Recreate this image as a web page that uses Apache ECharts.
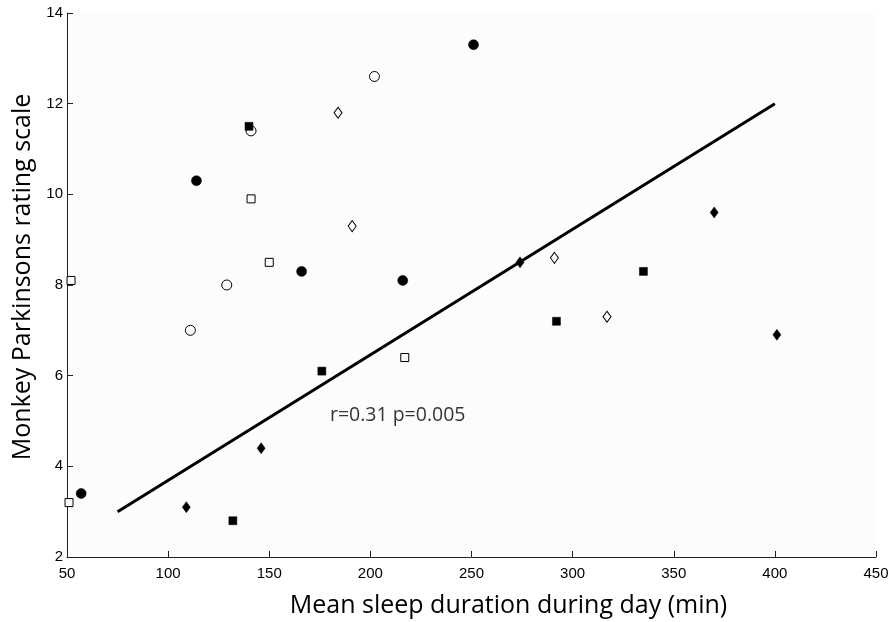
<!DOCTYPE html>
<html>
<head>
<meta charset="utf-8">
<script src="https://cdn.jsdelivr.net/npm/echarts@6/dist/echarts.min.js"></script>
<style>html,body{margin:0;padding:0;background:#fff;}#c{width:893px;height:622px;}</style>
</head>
<body>
<div id="c"></div>
<script>
// Data
var filledCircles = [[57,3.4],[114,10.3],[166,8.3],[216,8.1],[251,13.3]];
var openCircles   = [[111,7.0],[129,8.0],[141,11.4],[202,12.6]];
var filledSquares = [[132,2.8],[140,11.5],[176,6.1],[292,7.2],[335,8.3]];
var openSquares   = [[51,3.2],[52,8.1],[141,9.9],[150,8.5],[217,6.4]];
var filledDiamonds= [[109,3.1],[146,4.4],[274,8.5],[370,9.6],[401,6.9]];
var openDiamonds  = [[184,11.8],[191,9.3],[291,8.6],[317,7.3]];
var fitLine       = [[75,3.0],[400,12.0]];
var annotation    = {pos:[180,5.13], text:'r=0.31 p=0.005'};
var xTicks = {min:50, max:450, interval:50};
var yTicks = {min:2, max:14, interval:2};

var chart = echarts.init(document.getElementById('c'), null, {renderer:'canvas'});
function sc(name, data, symbol, size, filled){
  return {
    type:'scatter', name:name, data:data, symbol:symbol, symbolSize:size,
    itemStyle: filled ? {color:'#000', borderColor:'#000', borderWidth:0.5, opacity:1}
                      : {color:'#fcfcfc', borderColor:'#000', borderWidth:1, opacity:1},
    z: 3
  };
}
chart.setOption({
  animation:false,
  backgroundColor:'#fff',
  grid:{left:67, right:17, top:13, bottom:65, show:true, backgroundColor:'#fcfcfc', borderWidth:0, containLabel:false, outerBoundsMode:'none'},
  xAxis:{
    type:'value', min:xTicks.min, max:xTicks.max, interval:xTicks.interval,
    name:'Mean sleep duration during day (min)', nameLocation:'middle', nameGap:36,
    nameTextStyle:{fontFamily:'Open Sans', fontSize:25, color:'#000', padding:[0,0,0,74]},
    axisLine:{show:true, onZero:false, lineStyle:{color:'#222', width:1}},
    axisTick:{show:true, inside:true, length:6, lineStyle:{color:'#222'}},
    axisLabel:{fontFamily:'Liberation Sans', fontSize:15, color:'#000', margin:9},
    splitLine:{show:false}
  },
  yAxis:{
    type:'value', min:yTicks.min, max:yTicks.max, interval:yTicks.interval,
    name:'Monkey Parkinsons rating scale', nameLocation:'middle', nameGap:24,
    nameTextStyle:{fontFamily:'Open Sans', fontSize:25, color:'#000', padding:[0,0,0,16]},
    axisLine:{show:true, onZero:false, lineStyle:{color:'#222', width:1}},
    axisTick:{show:true, inside:true, length:6, lineStyle:{color:'#222'}},
    axisLabel:{fontFamily:'Liberation Sans', fontSize:15, color:'#000', margin:4},
    splitLine:{show:false}
  },
  series:[
    {type:'line', data:fitLine, symbol:'none', lineStyle:{color:'#000', width:3}, z:2, silent:true},
    sc('fc', filledCircles, 'circle', 10, true),
    sc('oc', openCircles, 'circle', 10, false),
    sc('fs', filledSquares, 'rect', 8, true),
    sc('os', openSquares, 'rect', 8, false),
    sc('fd', filledDiamonds, 'diamond', [8,11], true),
    sc('od', openDiamonds, 'diamond', [8,11], false),
    {type:'scatter', data:[annotation.pos], symbolSize:0, silent:true,
     label:{show:true, formatter:annotation.text, position:'right', distance:0,
            fontFamily:'Open Sans', fontSize:19.5, color:'#000'}}
  ]
});
</script>
</body>
</html>
